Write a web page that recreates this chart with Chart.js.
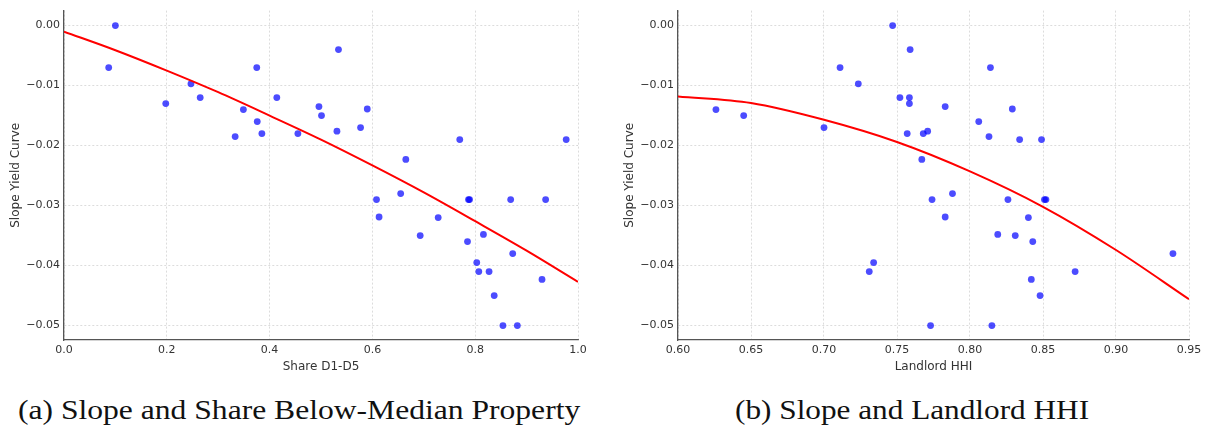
<!DOCTYPE html>
<html>
<head>
<meta charset="utf-8">
<script src="https://cdn.jsdelivr.net/npm/chart.js@4/dist/chart.umd.min.js"></script>
<style>
  html, body { margin: 0; padding: 0; background: #fff; }
  body { width: 1209px; height: 428px; position: relative; overflow: hidden; }
  .panel { position: absolute; top: 0; height: 380px; }
  #panelA { left: 0; width: 600px; }
  #panelB { left: 610px; width: 599px; }
  .cap { position: absolute; top: 396px; font-family: "Liberation Serif", "DejaVu Serif", serif;
         font-size: 28px; line-height: 1; color: #111; white-space: nowrap; transform-origin: 0 0; }
</style>
</head>
<body>
<div class="panel" id="panelA"><canvas id="chartA"></canvas></div>
<div class="panel" id="panelB"><canvas id="chartB"></canvas></div>
<div class="cap" id="capA" data-w="562" style="left:18px">(a) Slope and Share Below-Median Property</div>
<div class="cap" id="capB" data-w="354" style="left:735px">(b) Slope and Landlord HHI</div>
<script>
// ---- data ----
const shareX = [0.087, 0.100, 0.198, 0.247, 0.265, 0.333, 0.349, 0.375, 0.376, 0.385,
                0.414, 0.455, 0.496, 0.501, 0.531, 0.534, 0.577, 0.590, 0.608, 0.613,
                0.655, 0.665, 0.693, 0.728, 0.770, 0.785, 0.787, 0.789, 0.803, 0.807,
                0.816, 0.827, 0.837, 0.854, 0.869, 0.873, 0.882, 0.930, 0.937, 0.977];
const shareY = [-0.0070, 0.0000, -0.0130, -0.0097, -0.0120, -0.0185, -0.0140, -0.0070, -0.0160, -0.0180,
                -0.0120, -0.0180, -0.0135, -0.0150, -0.0176, -0.0040, -0.0170, -0.0139, -0.0290, -0.0319,
                -0.0280, -0.0223, -0.0350, -0.0320, -0.0190, -0.0360, -0.0290, -0.0290, -0.0395, -0.0410,
                -0.0348, -0.0410, -0.0450, -0.0500, -0.0290, -0.0380, -0.0500, -0.0423, -0.0290, -0.0190];

const hhiX = [0.626, 0.645, 0.700, 0.711, 0.7235, 0.747, 0.752, 0.757, 0.759, 0.7585,
              0.7585, 0.767, 0.768, 0.771, 0.731, 0.734, 0.773, 0.774, 0.783, 0.783,
              0.788, 0.806, 0.813, 0.814, 0.815, 0.819, 0.826, 0.829, 0.831, 0.834,
              0.840, 0.842, 0.843, 0.848, 0.849, 0.851, 0.852, 0.872, 0.939];
const hhiY = [-0.0140, -0.0150, -0.0170, -0.0070, -0.0097, 0.0000, -0.0120, -0.0180, -0.0040, -0.0120,
              -0.0130, -0.0223, -0.0180, -0.0176, -0.0410, -0.0395, -0.0500, -0.0290, -0.0135, -0.0319,
              -0.0280, -0.0160, -0.0185, -0.0070, -0.0500, -0.0348, -0.0290, -0.0139, -0.0350, -0.0190,
              -0.0320, -0.0423, -0.0360, -0.0450, -0.0190, -0.0290, -0.0290, -0.0410, -0.0380];

// fitted curves
const fitShareX = [0.0, 0.1, 0.2, 0.3, 0.4, 0.5, 0.6, 0.7, 0.8, 0.9, 1.0];
const fitShareY = [-0.0010, -0.0041, -0.0075, -0.0111, -0.0150, -0.0190, -0.0233, -0.0278, -0.0326, -0.0375, -0.0427];
const fitHhiX = [0.60, 0.65, 0.70, 0.75, 0.80, 0.85, 0.90, 0.95];
const fitHhiY = [-0.0118, -0.0129, -0.0157, -0.0194, -0.0243, -0.0302, -0.0374, -0.0456];

const yTicks = { min: -0.0524, max: 0.0025, step: 0.01 };

// ---- helpers ----
const pts = (xs, ys) => xs.map((x, i) => ({ x, y: ys[i] }));
const minus = (s) => s.replace('-', '\u2212');
const tickFont = { family: 'DejaVu Sans', size: 11 };
const txt = '#333';

function makeChart(id, cfg) {
    const ctx = document.getElementById(id);
    return new Chart(ctx, {
        type: 'scatter',
        data: {
            datasets: [
                {
                    type: 'line',
                    data: pts(cfg.fitX, cfg.fitY),
                    borderColor: '#ff0000',
                    borderWidth: 2,
                    pointRadius: 0,
                    fill: false,
                    cubicInterpolationMode: 'monotone'
                },
                {
                    data: pts(cfg.x, cfg.y),
                    backgroundColor: 'rgba(0,0,255,0.7)',
                    borderWidth: 0,
                    pointRadius: 3.4,
                    pointHoverRadius: 3.4
                }
            ]
        },
        options: {
            responsive: true,
            maintainAspectRatio: false,
            animation: false,
            layout: { padding: { top: 8, right: cfg.padRight, left: 0, bottom: 0 } },
            plugins: { legend: { display: false }, tooltip: { enabled: false } },
            scales: {
                x: {
                    type: 'linear',
                    min: cfg.xMin, max: cfg.xMax,
                    afterFit: (s) => { s.height = 40; },
                    grid: { color: '#d4d4d4', lineWidth: 0.8, drawTicks: false },
                    border: { color: '#555', width: 1.3, dash: [2, 2] },
                    ticks: {
                        stepSize: cfg.xStep, includeBounds: false, padding: 4,
                        font: tickFont, color: txt, maxRotation: 0,
                        callback: (v) => minus(Number(v).toFixed(cfg.xDec))
                    },
                    title: { display: true, text: cfg.xTitle, color: txt,
                             font: { family: 'DejaVu Sans', size: 12 }, padding: { top: 0, bottom: 6 } }
                },
                y: {
                    type: 'linear',
                    min: yTicks.min, max: yTicks.max,
                    afterFit: (s) => { s.width = cfg.yWidth; },
                    grid: { color: '#d4d4d4', lineWidth: 0.8, drawTicks: false },
                    border: { color: '#555', width: 1.3, dash: [2, 2] },
                    ticks: {
                        stepSize: yTicks.step, includeBounds: false, padding: 4,
                        font: tickFont, color: txt,
                        callback: (v) => {
                            const s = Number(v).toFixed(2);
                            return s === '-0.00' ? '0.00' : minus(s);
                        }
                    },
                    title: { display: true, text: 'Slope Yield Curve', color: txt,
                             font: { family: 'DejaVu Sans', size: 12 }, padding: { top: cfg.yTitlePad, bottom: 0 } }
                }
            }
        }
    });
}

makeChart('chartA', {
    x: shareX, y: shareY, fitX: fitShareX, fitY: fitShareY,
    xMin: 0, xMax: 1, xStep: 0.2, xDec: 1, xTitle: 'Share D1-D5',
    padRight: 22, yWidth: 64, yTitlePad: 9
});
makeChart('chartB', {
    x: hhiX, y: hhiY, fitX: fitHhiX, fitY: fitHhiY,
    xMin: 0.6, xMax: 0.95, xStep: 0.05, xDec: 2, xTitle: 'Landlord HHI',
    padRight: 20, yWidth: 68, yTitlePad: 13
});

// fit captions to the widths seen in the reference
document.querySelectorAll('.cap').forEach((el) => {
    const w = el.getBoundingClientRect().width;
    const target = Number(el.dataset.w);
    if (w > 0) el.style.transform = `scaleX(${(target / w).toFixed(3)})`;
});
</script>
</body>
</html>
